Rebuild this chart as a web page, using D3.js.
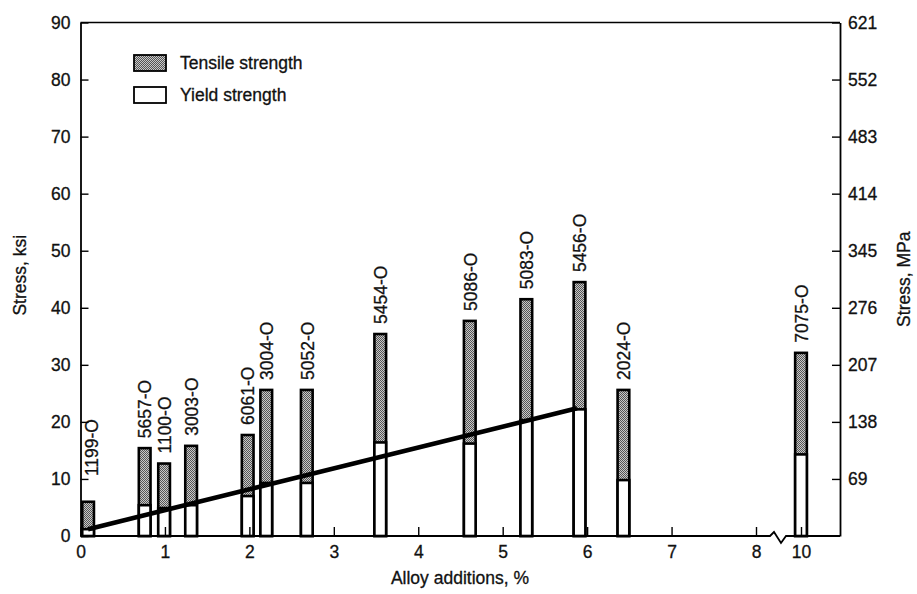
<!DOCTYPE html>
<html>
<head>
<meta charset="utf-8">
<script src="https://cdn.jsdelivr.net/npm/d3@7/dist/d3.min.js"></script>
<style>
  html, body { margin: 0; padding: 0; background: #fff; }
  svg { display: block; font-family: "Liberation Sans", Arial, Helvetica, sans-serif; }
  svg text { stroke: #111; stroke-width: 0.3px; }
</style>
</head>
<body>
<svg id="chart" width="917" height="594"></svg>
<script>
// Annealed aluminium alloys: strength vs. alloy additions
const categories = ["1199-O", "5657-O", "1100-O", "3003-O", "6061-O", "3004-O", "5052-O",
                    "5454-O", "5086-O", "5083-O", "5456-O", "2024-O", "7075-O"];
const alloyPct   = [0.09, 0.76, 0.99, 1.31, 1.98, 2.20, 2.68, 3.55, 4.61, 5.28, 5.91, 6.43, 10];
const tensileKsi = [6.0, 15.4, 12.7, 15.8, 17.7, 25.6, 25.6, 35.4, 37.7, 41.5, 44.5, 25.6, 32.1];
const yieldKsi   = [1.2, 5.4, 4.9, 5.4, 7.0, 9.3, 9.3, 16.4, 16.2, 20.3, 22.2, 9.8, 14.3];

// Yield-strength trend for the non-heat-treatable alloys
const trendPct = [0.09, 5.88];
const trendKsi = [1.2, 22.4];

const xTickValues = [0, 1, 2, 3, 4, 5, 6, 7, 8, 10];
const ksiTickValues = [0, 10, 20, 30, 40, 50, 60, 70, 80, 90];
const mpaTickLabels = ["69", "138", "207", "276", "345", "414", "483", "552", "621"];

const svg = d3.select("#chart");

const plot = { left: 80.5, right: 840, top: 22.5, bottom: 536 };

// Broken x axis: 0-8 % linear, then a gap to 10 %
const x = d3.scaleLinear().domain([0, 8, 10]).range([plot.left, 756, 801]);
const y = d3.scaleLinear().domain([0, 90]).range([plot.bottom, plot.top]);

// Halftone fill for the tensile portion
const defs = svg.append("defs");
const pat = defs.append("pattern")
  .attr("id", "halftone")
  .attr("patternUnits", "userSpaceOnUse")
  .attr("width", 2).attr("height", 2);
pat.append("rect").attr("width", 2).attr("height", 2).attr("fill", "#c8c8c8");
pat.append("rect").attr("x", 0).attr("y", 0).attr("width", 1).attr("height", 1).attr("fill", "#555");
pat.append("rect").attr("x", 1).attr("y", 1).attr("width", 1).attr("height", 1).attr("fill", "#555");

const rows = categories.map((name, i) => ({
  name, pct: alloyPct[i], ts: tensileKsi[i], ys: yieldKsi[i]
}));

const barW = 11.7;
const bars = svg.append("g").attr("class", "bars");

// Tensile (full bar) then yield (lower part)
bars.selectAll("rect.ts").data(rows).join("rect")
  .attr("class", "ts")
  .attr("x", d => x(d.pct) - barW / 2)
  .attr("width", barW)
  .attr("y", d => y(d.ts))
  .attr("height", d => y(0) - y(d.ts))
  .attr("fill", "url(#halftone)")
  .attr("stroke", "#000")
  .attr("stroke-width", 2.6);

bars.selectAll("rect.ys").data(rows).join("rect")
  .attr("class", "ys")
  .attr("x", d => x(d.pct) - barW / 2)
  .attr("width", barW)
  .attr("y", d => y(d.ys))
  .attr("height", d => y(0) - y(d.ys))
  .attr("fill", "#fff")
  .attr("stroke", "#000")
  .attr("stroke-width", 2.6);

// Trend line
const trend = trendPct.map((p, i) => [p, trendKsi[i]]);
svg.append("path")
  .datum(trend)
  .attr("d", d3.line().x(d => x(d[0])).y(d => y(d[1])))
  .attr("fill", "none")
  .attr("stroke", "#000")
  .attr("stroke-width", 4.6);

// Alloy labels, rotated above each bar
svg.append("g").selectAll("text").data(rows).join("text")
  .attr("transform", d => {
    const base = Math.min(y(d.ts) - 10, y(10.5));
    const dx = d.pct < 0.5 ? 4 : 0.5;
    return `translate(${x(d.pct) + dx},${base}) rotate(-90)`;
  })
  .attr("dy", "0.36em")
  .attr("font-size", 17.5)
  .attr("fill", "#111")
  .text(d => d.name);

// Frame: top border
svg.append("line")
  .attr("x1", plot.left).attr("x2", plot.right).attr("y1", plot.top).attr("y2", plot.top)
  .attr("stroke", "#000").attr("stroke-width", 1.6);

// Bottom axis line with break between 8 and 10
svg.append("path")
  .attr("d", `M${plot.left},${plot.bottom} H770 L774,532 L781,543 L786,${plot.bottom} H${plot.right}`)
  .attr("fill", "none").attr("stroke", "#000").attr("stroke-width", 1.8);

const tickFont = g => g.selectAll("text")
  .attr("font-size", 17.5)
  .attr("font-family", "'Liberation Sans', Arial, sans-serif")
  .attr("fill", "#111");

// x axis
const gx = svg.append("g")
  .attr("transform", `translate(0,${plot.bottom})`)
  .call(d3.axisBottom(x).tickValues(xTickValues).tickFormat(d3.format("d"))
    .tickSizeInner(-9).tickSizeOuter(0).tickPadding(10));
gx.select(".domain").remove();
gx.selectAll(".tick line").attr("stroke", "#000").attr("stroke-width", 1.4);
tickFont(gx);

// Left axis (ksi)
const gy = svg.append("g")
  .attr("transform", `translate(${plot.left},0)`)
  .call(d3.axisLeft(y).tickValues(ksiTickValues)
    .tickSizeInner(-8).tickSizeOuter(0).tickPadding(10));
gy.select(".domain").attr("stroke", "#000").attr("stroke-width", 1.8);
gy.selectAll(".tick line").attr("stroke", "#000").attr("stroke-width", 1.4);
tickFont(gy);

// Right axis (MPa)
const gr = svg.append("g")
  .attr("transform", `translate(${plot.right},0)`)
  .call(d3.axisRight(y).tickValues(ksiTickValues.slice(1))
    .tickFormat((d, i) => mpaTickLabels[i])
    .tickSizeInner(-8).tickSizeOuter(0).tickPadding(8));
gr.select(".domain").attr("stroke", "#000").attr("stroke-width", 1.8);
gr.selectAll(".tick line").attr("stroke", "#000").attr("stroke-width", 1.4);
tickFont(gr);

// Axis titles
svg.append("text")
  .attr("transform", `translate(20,${(plot.top + plot.bottom) / 2 - 4}) rotate(-90)`)
  .attr("text-anchor", "middle").attr("dy", "0.36em")
  .attr("font-size", 17.5).attr("fill", "#111")
  .text("Stress, ksi");

svg.append("text")
  .attr("transform", `translate(904,${(plot.top + plot.bottom) / 2}) rotate(-90)`)
  .attr("text-anchor", "middle").attr("dy", "0.36em")
  .attr("font-size", 17.5).attr("fill", "#111")
  .text("Stress, MPa");

svg.append("text")
  .attr("x", 460).attr("y", 584)
  .attr("text-anchor", "middle")
  .attr("font-size", 17.5).attr("fill", "#111")
  .text("Alloy additions, %");

// Legend
const legendItems = [
  { label: "Tensile strength", fill: "url(#halftone)" },
  { label: "Yield strength", fill: "#fff" }
];
const lg = svg.append("g").attr("transform", "translate(134,55)");
lg.selectAll("rect").data(legendItems).join("rect")
  .attr("x", 0).attr("y", (d, i) => i * 32)
  .attr("width", 32).attr("height", 16)
  .attr("fill", d => d.fill)
  .attr("stroke", "#000").attr("stroke-width", 1.8);
lg.selectAll("text").data(legendItems).join("text")
  .attr("x", 46).attr("y", (d, i) => i * 32 + 8)
  .attr("dy", "0.36em")
  .attr("font-size", 17.5).attr("fill", "#111")
  .text(d => d.label);
</script>
</body>
</html>
